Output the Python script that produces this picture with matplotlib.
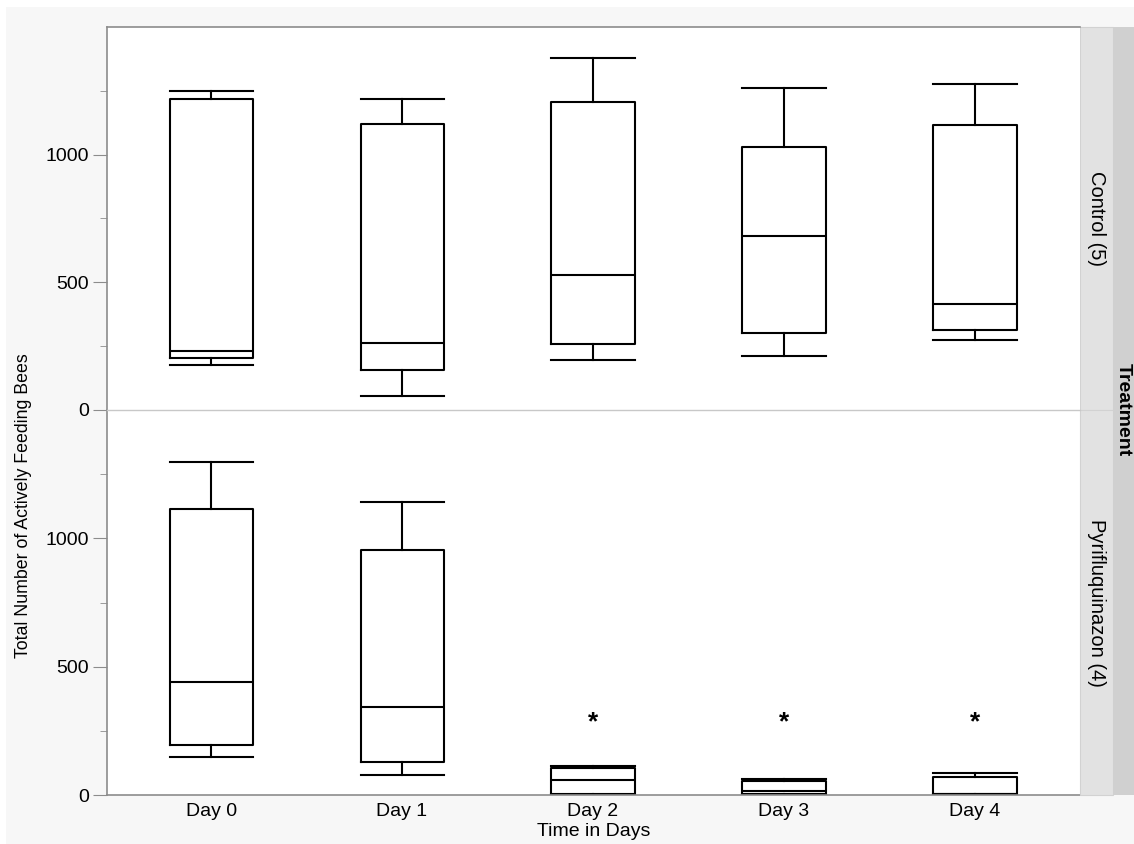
import matplotlib
matplotlib.use("Agg")
import matplotlib.pyplot as plt
from matplotlib.patches import Rectangle

plt.rcParams['font.family'] = ['Liberation Sans', 'DejaVu Sans']

days = ["Day 0", "Day 1", "Day 2", "Day 3", "Day 4"]
treatments = ["Control (5)", "Pyrifluquinazon (4)"]

# whisker low, Q1, median, Q3, whisker high
control_min = [175, 55, 195, 211, 273]
control_q1 = [202, 156, 260, 303, 315]
control_med = [232, 263, 529, 682, 417]
control_q3 = [1217, 1121, 1207, 1029, 1118]
control_max = [1250, 1219, 1380, 1260, 1276]

pyri_min = [150, 77, 0, 0, 0]
pyri_q1 = [193, 129, 4, 2, 3]
pyri_med = [439, 341, 58, 17, 5]
pyri_q3 = [1115, 956, 105, 56, 72]
pyri_max = [1299, 1140, 112, 62, 85]

signif_days = [2, 3, 4]
signif_y = 285

W, H = 1134, 844
fig = plt.figure(figsize=(W / 100, H / 100), dpi=100, facecolor="white")
fig.patches.append(Rectangle((6 / W, 0), 1, 1 - 7 / H, transform=fig.transFigure,
                             facecolor="#f7f7f7", edgecolor="none", zorder=-10))

left, right = 107 / W, 1080 / W
ax_bot = fig.add_axes([left, 1 - 795 / H, right - left, 385 / H])
ax_top = fig.add_axes([left, 1 - 410 / H, right - left, 383 / H])
ax_top.set_zorder(3)

panels = [
    (ax_top, control_min, control_q1, control_med, control_q3, control_max),
    (ax_bot, pyri_min, pyri_q1, pyri_med, pyri_q3, pyri_max),
]

line = dict(color="black", linewidth=1.5)
for ax, lo, q1, med, q3, hi in panels:
    stats = []
    for i in range(len(days)):
        stats.append(dict(whislo=lo[i], q1=q1[i], med=med[i], q3=q3[i],
                          whishi=hi[i], fliers=[], label=days[i]))
    ax.bxp(stats, positions=range(len(days)), widths=0.435, showfliers=False,
           boxprops=line, whiskerprops=line, medianprops=line,
           capprops=line, capwidths=0.435)
    ax.set_xlim(-0.545, 4.55)
    ax.set_ylim(0, 1500)
    ax.set_yticks([0, 500, 1000])
    ax.set_yticks([250, 750, 1250], minor=True)
    ax.tick_params(axis="y", which="major", length=10, color="#8c8c8c",
                   labelsize=14, pad=3)
    ax.tick_params(axis="y", which="minor", length=5, color="#8c8c8c")
    ax.set_facecolor("white")
    for s in ["left", "top", "bottom"]:
        ax.spines[s].set_color("#8c8c8c")
        ax.spines[s].set_linewidth(1.2)
    ax.spines["right"].set_visible(False)

ax_top.spines["bottom"].set_color("#c8c8c8")
ax_top.spines["bottom"].set_linewidth(1.0)
ax_bot.spines["top"].set_visible(False)
ax_top.tick_params(axis="x", bottom=False, labelbottom=False)
ax_bot.tick_params(axis="x", length=0, labelsize=14, pad=6)
ax_bot.set_xticks(range(len(days)))
ax_bot.set_xticklabels(days)

for d in signif_days:
    ax_bot.text(d, signif_y, "*", ha="center", va="center", fontsize=19,
                fontweight="bold")

# facet strips
strip_x0, strip_x1, outer_x1 = 1080 / W, 1113 / W, 1.0
for i, (y0, y1) in enumerate([(27, 410), (410, 795)]):
    fig.patches.append(Rectangle((strip_x0, 1 - y1 / H), strip_x1 - strip_x0,
                                 (y1 - y0) / H, transform=fig.transFigure,
                                 facecolor="#e2e2e2", edgecolor="#d2d2d2",
                                 linewidth=0.8))
    fig.text((strip_x0 + strip_x1) / 2, 1 - (y0 + y1) / 2 / H, treatments[i],
             rotation=-90, ha="center", va="center", fontsize=14.5)
fig.patches.append(Rectangle((strip_x1, 1 - 795 / H), outer_x1 - strip_x1,
                             768 / H, transform=fig.transFigure,
                             facecolor="#d0d0d0", edgecolor="none"))
fig.text(1123 / W, 1 - 410 / H, "Treatment", rotation=-90, ha="center",
         va="center", fontsize=14, fontweight="bold")

fig.text(24 / W, 1 - 506 / H, "Total Number of Actively Feeding Bees",
         rotation=90, ha="center", va="center", fontsize=12.8)
fig.text(594 / W, 1 - 831 / H, "Time in Days", ha="center", va="center",
         fontsize=14)

fig.savefig("out.png", dpi=100, facecolor=fig.get_facecolor())
